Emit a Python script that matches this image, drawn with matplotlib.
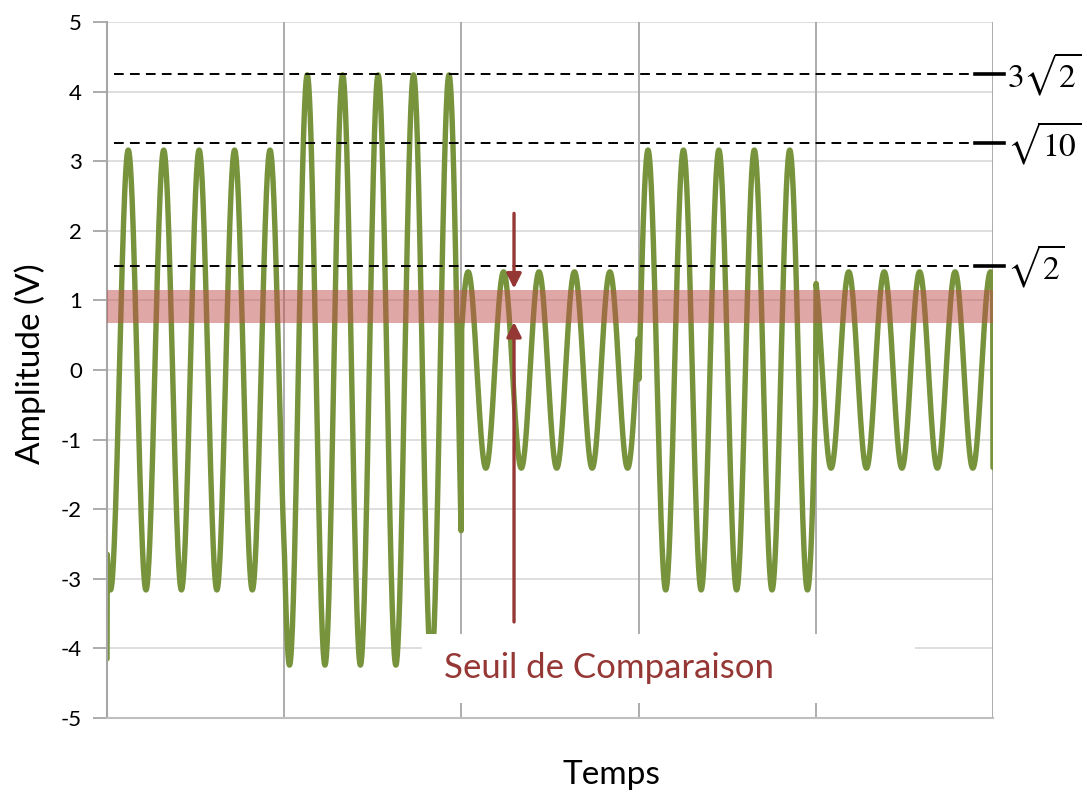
#!/usr/bin/env python3
"""Signal modulé par symboles avec seuil de comparaison."""
import numpy as np
import matplotlib
matplotlib.use("Agg")
import matplotlib.pyplot as plt
from matplotlib.patches import Rectangle

plt.rcParams["font.family"] = ["Lato", "DejaVu Sans"]
plt.rcParams["mathtext.fontset"] = "stix"

# --- data ---
symbol_amplitude = [3.16, 4.24, 1.41, 3.16, 1.41]      # V, one value per symbol
symbol_peak_phase = [0.60, 0.65, 0.19, 0.265, 0.93]    # first-peak position, in cycles
cycles_per_symbol = 5
edge_values = (-4.15, -1.40)                           # first / last sample

levels = [4.25, 3.26, 1.49]
level_labels = [r"$3\sqrt{2}$", r"$\sqrt{10}$", r"$\sqrt{2}$"]
threshold_band = (0.68, 1.15)
yticks = [-5, -4, -3, -2, -1, 0, 1, 2, 3, 4, 5]

GREEN = "#77933C"
DARKRED = "#953735"
BANDRED = "#C0504D"

# build the sampled waveform, one symbol after the other
t_all, y_all = [0.0], [edge_values[0]]
for k, (amp, ph) in enumerate(zip(symbol_amplitude, symbol_peak_phase)):
    t = np.linspace(k, k + 1, 600, endpoint=False)[1:]
    y = amp * np.cos(2 * np.pi * (cycles_per_symbol * (t - k) - ph))
    t_all.extend(t); y_all.extend(y)
t_all.append(len(symbol_amplitude)); y_all.append(edge_values[1])

fig = plt.figure(figsize=(10.87, 7.95), dpi=100)
ax = fig.add_axes([107 / 1087, 1 - 718 / 795, 886 / 1087, 696 / 795])
ax.set_xlim(0, 5)
ax.set_ylim(-5, 5)

# grid
for yv in yticks:
    ax.axhline(yv, color="#d9d9d9", lw=1.2, zorder=0)
for xv in range(1, 6):
    ax.axvline(xv, color="#a6a6a6", lw=1.3, zorder=0.5)

ax.plot(t_all, y_all, color=GREEN, lw=3.9, solid_joinstyle="round",
        solid_capstyle="round", zorder=2)

ax.axhspan(*threshold_band, color=BANDRED, alpha=0.5, lw=0, zorder=3)

# reference levels
for lv, lab in zip(levels, level_labels):
    ax.plot([0.04, 4.90], [lv, lv], color="black", lw=1.4, ls=(0, (5, 3.2)), zorder=4)
    ax.plot([4.90, 5.06], [lv, lv], color="black", lw=2.6, clip_on=False, zorder=4)
    ax.text(5.08, lv, lab, fontsize=24, va="center", ha="left", clip_on=False)

# arrows pointing at the band
ax.annotate("", xy=(2.297, threshold_band[1] + 0.02), xytext=(2.297, 2.25),
            arrowprops=dict(arrowstyle="-|>", color=DARKRED, lw=2.4, mutation_scale=22,
                            shrinkA=0, shrinkB=0), zorder=5)
ax.annotate("", xy=(2.297, threshold_band[0] + 0.01), xytext=(2.297, -3.62),
            arrowprops=dict(arrowstyle="-|>", color=DARKRED, lw=2.4, mutation_scale=22,
                            shrinkA=0, shrinkB=0), zorder=5)

# label box
ax.add_patch(Rectangle((1.778, -4.78), 2.78, 0.99, facecolor="white", edgecolor="none", zorder=6))
ax.text(1.90, -4.28, "Seuil de Comparaison", color=DARKRED, fontsize=25,
        va="center", ha="left", zorder=7)

# axes styling
ax.set_yticks(yticks)
ax.set_yticklabels([str(v) for v in yticks], fontsize=16)
ax.set_xticks([])
ax.tick_params(axis="y", direction="out", length=10, width=1.3, color="#a6a6a6", pad=8)
for s in ("top", "right"):
    ax.spines[s].set_visible(False)
ax.spines["left"].set_color("#a6a6a6")
ax.spines["left"].set_linewidth(1.5)
ax.spines["bottom"].set_color("#bfbfbf")
ax.spines["bottom"].set_linewidth(1.5)

fig.text(30 / 1087, 1 - 364 / 795, "Amplitude (V)", rotation=90, fontsize=24,
         va="center", ha="center")
fig.text(611 / 1087, 1 - 775 / 795, "Temps", fontsize=24, va="center", ha="center")

fig.savefig("out.png", dpi=100)
